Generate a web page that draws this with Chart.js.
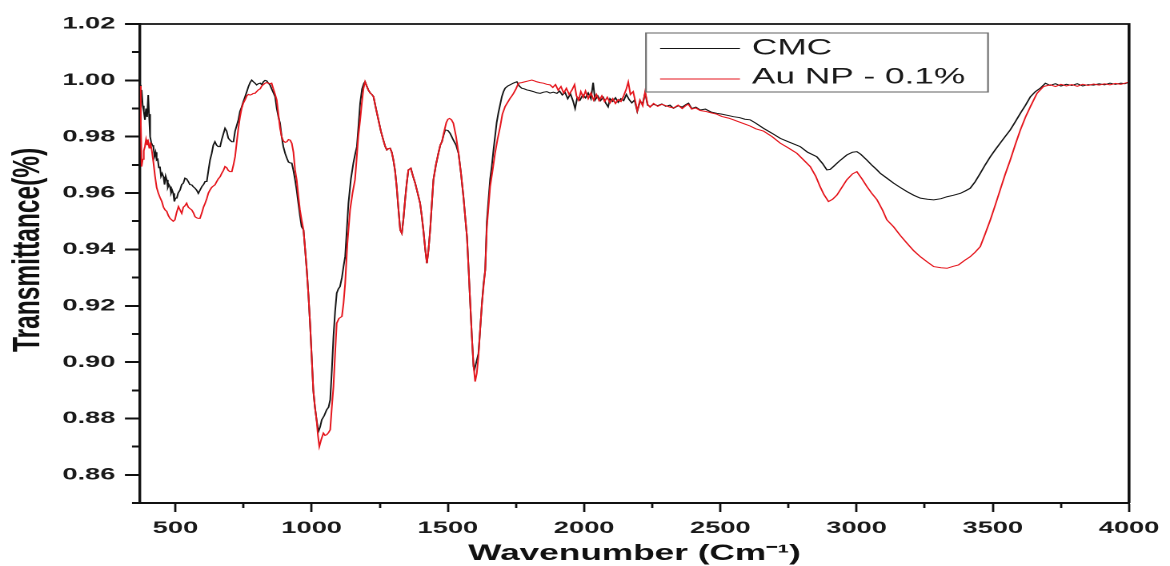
<!DOCTYPE html>
<html><head><meta charset="utf-8">
<script src="https://cdn.jsdelivr.net/npm/chart.js@4.4.1/dist/chart.umd.min.js"></script>
<style>
html,body{margin:0;padding:0;background:#fff;overflow:hidden;}
#wrap{width:1170px;height:566px;position:relative;overflow:hidden;background:#fff;}
#c{position:absolute;left:0;top:0;transform-origin:0 0;transform:scaleX(1.60055);}
</style></head><body><div id="wrap"><canvas id="c" width="731" height="566"></canvas></div>
<script>
const seriesLabels = ['CMC', 'Au NP - 0.1%'];

const cmcWavenumber = [370,373,376,380,384,388,392,396,400,403,407,411,415,419,423,427,431,435,439,443,447,451,456,460,464,468,472,476,480,484,488,492,496,500,505,510,517,523,529,535,541,547,553,560,566,572,578,584,590,597,603,609,615,621,627,633,639,645,651,657,664,670,676,682,688,694,700,707,713,719,725,731,737,743,749,755,762,768,774,780,786,792,798,804,811,817,823,829,835,841,847,853,860,866,872,878,884,890,896,903,909,915,921,927,933,939,945,951,957,963,970,976,982,988,994,1000,1006,1012,1018,1025,1031,1037,1046,1055,1062,1068,1074,1080,1086,1092,1098,1104,1111,1117,1123,1129,1135,1144,1153,1160,1166,1172,1178,1185,1192,1196,1202,1208,1215,1221,1227,1236,1245,1254,1263,1270,1276,1282,1288,1294,1300,1306,1312,1318,1325,1331,1337,1343,1349,1355,1364,1372,1380,1389,1398,1404,1410,1417,1423,1429,1435,1441,1447,1456,1465,1472,1478,1484,1490,1500,1508,1514,1520,1530,1539,1548,1557,1564,1570,1576,1582,1588,1594,1597,1603,1612,1618,1625,1631,1637,1643,1649,1655,1661,1667,1673,1679,1685,1692,1698,1704,1710,1720,1728,1740,1753,1762,1771,1780,1790,1800,1814,1826,1839,1851,1863,1875,1887,1900,1910,1920,1930,1940,1950,1960,1967,1975,1985,1995,2005,2015,2025,2033,2040,2050,2060,2070,2080,2088,2095,2105,2115,2125,2135,2145,2155,2165,2175,2185,2195,2205,2215,2224,2233,2242,2255,2270,2285,2300,2315,2328,2345,2360,2375,2383,2395,2410,2426,2445,2465,2487,2505,2530,2548,2570,2590,2609,2630,2658,2690,2720,2750,2793,2820,2854,2875,2891,2903,2915,2935,2964,2985,3001,3015,3038,3055,3075,3087,3111,3136,3160,3185,3210,3234,3260,3283,3310,3332,3355,3381,3400,3417,3435,3454,3472,3491,3510,3527,3545,3564,3582,3601,3620,3638,3656,3674,3693,3710,3730,3750,3770,3790,3810,3830,3850,3870,3890,3910,3930,3950,3970,3985,4000];
const cmcTransmittance = [0.9984,0.9940,0.9966,0.9910,0.9890,0.9860,0.9900,0.9870,0.9948,0.9880,0.9800,0.9780,0.9770,0.9765,0.9730,0.9745,0.9717,0.9720,0.9690,0.9694,0.9660,0.9670,0.9658,0.9630,0.9660,0.9647,0.9620,0.9630,0.9623,0.9600,0.9610,0.9599,0.9570,0.9582,0.9582,0.9600,0.9611,0.9630,0.9635,0.9653,0.9650,0.9641,0.9630,0.9629,0.9622,0.9617,0.9610,0.9599,0.9610,0.9623,0.9630,0.9641,0.9641,0.9680,0.9717,0.9740,0.9770,0.9782,0.9770,0.9765,0.9765,0.9790,0.9810,0.9830,0.9820,0.9795,0.9788,0.9782,0.9782,0.9820,0.9840,0.9860,0.9890,0.9905,0.9924,0.9940,0.9960,0.9978,0.9992,1.0001,0.9995,0.9990,0.9984,0.9988,0.9990,0.9985,0.9995,1.0000,0.9998,0.9990,0.9984,0.9970,0.9955,0.9942,0.9900,0.9870,0.9848,0.9800,0.9765,0.9740,0.9724,0.9710,0.9707,0.9706,0.9680,0.9647,0.9610,0.9564,0.9520,0.9481,0.9469,0.9400,0.9327,0.9240,0.9140,0.9020,0.8900,0.8840,0.8795,0.8754,0.8770,0.8795,0.8810,0.8831,0.8840,0.8866,0.8970,0.9090,0.9180,0.9245,0.9260,0.9268,0.9300,0.9340,0.9375,0.9470,0.9564,0.9650,0.9706,0.9740,0.9765,0.9840,0.9919,0.9970,0.9990,0.9995,0.9980,0.9966,0.9955,0.9950,0.9942,0.9900,0.9860,0.9820,0.9788,0.9765,0.9753,0.9758,0.9759,0.9745,0.9717,0.9680,0.9623,0.9550,0.9469,0.9457,0.9510,0.9576,0.9635,0.9682,0.9688,0.9660,0.9635,0.9600,0.9564,0.9520,0.9469,0.9400,0.9351,0.9400,0.9469,0.9560,0.9647,0.9700,0.9741,0.9770,0.9782,0.9805,0.9824,0.9822,0.9812,0.9800,0.9788,0.9770,0.9741,0.9670,0.9587,0.9510,0.9445,0.9330,0.9209,0.9090,0.8984,0.8972,0.8995,0.9030,0.9110,0.9209,0.9280,0.9327,0.9500,0.9576,0.9650,0.9694,0.9750,0.9800,0.9850,0.9883,0.9915,0.9942,0.9960,0.9972,0.9980,0.9984,0.9990,0.9995,0.9980,0.9972,0.9970,0.9966,0.9964,0.9960,0.9956,0.9954,0.9958,0.9960,0.9955,0.9958,0.9954,0.9962,0.9948,0.9957,0.9935,0.9952,0.9925,0.9900,0.9940,0.9930,0.9948,0.9938,0.9955,0.9935,0.9992,0.9930,0.9945,0.9928,0.9940,0.9918,0.9906,0.9935,0.9925,0.9938,0.9922,0.9935,0.9928,0.9950,0.9932,0.9920,0.9930,0.9890,0.9925,0.9918,0.9955,0.9912,0.9907,0.9915,0.9910,0.9916,0.9908,0.9912,0.9901,0.9910,0.9905,0.9915,0.9919,0.9900,0.9905,0.9895,0.9898,0.9888,0.9883,0.9880,0.9875,0.9871,0.9868,0.9862,0.9860,0.9848,0.9830,0.9812,0.9794,0.9782,0.9765,0.9745,0.9729,0.9705,0.9682,0.9684,0.9694,0.9712,0.9735,0.9745,0.9747,0.9738,0.9717,0.9700,0.9682,0.9670,0.9653,0.9635,0.9620,0.9605,0.9592,0.9582,0.9578,0.9576,0.9580,0.9587,0.9592,0.9599,0.9608,0.9617,0.9640,0.9670,0.9700,0.9729,0.9755,0.9777,0.9800,0.9824,0.9852,0.9883,0.9912,0.9942,0.9960,0.9972,0.9990,0.9982,0.9988,0.9980,0.9986,0.9982,0.9988,0.9980,0.9985,0.9983,0.9988,0.9984,0.9990,0.9986,0.9990,0.9988,0.9994];

const auWavenumber = [370,373,376,380,384,388,392,396,400,404,408,413,419,425,431,437,443,450,456,462,468,474,480,486,492,498,504,511,517,523,529,535,541,547,553,560,566,572,578,584,590,597,603,609,615,621,627,633,639,645,651,657,664,670,676,682,688,694,700,707,713,719,725,731,737,743,749,755,762,768,774,780,786,792,798,804,811,817,823,829,835,841,847,853,860,866,872,878,884,890,896,903,909,915,921,927,933,939,945,951,957,963,970,976,982,988,994,1000,1006,1012,1018,1023,1028,1035,1043,1049,1055,1062,1068,1074,1080,1086,1092,1100,1111,1117,1123,1131,1141,1150,1159,1165,1171,1178,1184,1190,1196,1202,1208,1215,1221,1227,1236,1245,1254,1263,1270,1276,1282,1288,1294,1300,1306,1312,1318,1325,1331,1337,1343,1349,1355,1364,1372,1380,1389,1398,1404,1410,1417,1423,1429,1435,1441,1447,1456,1465,1472,1478,1484,1494,1500,1506,1513,1520,1530,1539,1548,1557,1564,1570,1576,1582,1588,1594,1600,1606,1612,1618,1625,1631,1637,1643,1649,1655,1664,1673,1682,1692,1700,1710,1718,1728,1735,1741,1750,1759,1771,1783,1795,1808,1818,1826,1838,1851,1863,1875,1885,1895,1905,1915,1925,1935,1945,1955,1965,1972,1980,1988,1997,2005,2015,2025,2035,2045,2055,2065,2075,2085,2095,2105,2115,2125,2135,2145,2155,2162,2170,2180,2188,2195,2205,2215,2224,2233,2242,2255,2270,2285,2300,2315,2328,2345,2360,2375,2383,2395,2410,2426,2445,2465,2487,2505,2530,2548,2570,2590,2609,2630,2658,2690,2720,2750,2781,2805,2830,2850,2866,2880,2897,2912,2928,2946,2964,2985,3001,3020,3038,3055,3075,3095,3111,3136,3160,3185,3210,3234,3260,3283,3310,3332,3355,3374,3395,3417,3435,3454,3472,3491,3510,3527,3545,3564,3582,3601,3620,3638,3662,3686,3711,3730,3750,3770,3790,3810,3830,3850,3870,3890,3910,3930,3950,3970,3985,4000];
const auTransmittance = [0.9980,0.9850,0.9694,0.9720,0.9750,0.9765,0.9790,0.9770,0.9782,0.9760,0.9780,0.9753,0.9710,0.9660,0.9620,0.9600,0.9585,0.9570,0.9550,0.9540,0.9535,0.9520,0.9510,0.9505,0.9500,0.9505,0.9530,0.9552,0.9540,0.9528,0.9550,0.9555,0.9564,0.9550,0.9545,0.9540,0.9530,0.9516,0.9512,0.9510,0.9510,0.9530,0.9550,0.9564,0.9580,0.9600,0.9611,0.9620,0.9625,0.9629,0.9640,0.9650,0.9658,0.9670,0.9680,0.9694,0.9690,0.9680,0.9676,0.9676,0.9700,0.9729,0.9780,0.9830,0.9870,0.9900,0.9919,0.9930,0.9945,0.9950,0.9948,0.9950,0.9954,0.9954,0.9960,0.9966,0.9970,0.9980,0.9985,0.9990,0.9992,0.9990,0.9988,0.9990,0.9968,0.9950,0.9930,0.9880,0.9830,0.9800,0.9785,0.9780,0.9782,0.9790,0.9788,0.9777,0.9745,0.9682,0.9647,0.9590,0.9540,0.9505,0.9469,0.9400,0.9327,0.9240,0.9140,0.9020,0.8900,0.8840,0.8795,0.8740,0.8700,0.8725,0.8748,0.8740,0.8742,0.8750,0.8760,0.8840,0.8913,0.9030,0.9138,0.9155,0.9162,0.9210,0.9280,0.9420,0.9540,0.9600,0.9647,0.9720,0.9800,0.9860,0.9919,0.9970,0.9995,0.9980,0.9966,0.9955,0.9950,0.9942,0.9900,0.9860,0.9820,0.9788,0.9765,0.9753,0.9758,0.9759,0.9745,0.9717,0.9680,0.9623,0.9550,0.9469,0.9457,0.9510,0.9576,0.9635,0.9682,0.9688,0.9660,0.9635,0.9600,0.9564,0.9520,0.9469,0.9400,0.9351,0.9400,0.9469,0.9560,0.9647,0.9700,0.9741,0.9770,0.9782,0.9810,0.9850,0.9862,0.9865,0.9860,0.9848,0.9800,0.9741,0.9670,0.9587,0.9510,0.9445,0.9330,0.9209,0.9090,0.8990,0.8931,0.8960,0.9020,0.9110,0.9209,0.9270,0.9327,0.9480,0.9550,0.9623,0.9680,0.9741,0.9790,0.9836,0.9880,0.9907,0.9920,0.9936,0.9945,0.9954,0.9970,0.9990,0.9992,0.9995,0.9998,1.0001,0.9998,0.9995,0.9992,0.9990,0.9986,0.9984,0.9975,0.9985,0.9965,0.9978,0.9955,0.9972,0.9950,0.9965,0.9985,0.9945,0.9930,0.9960,0.9940,0.9962,0.9935,0.9955,0.9930,0.9950,0.9928,0.9945,0.9925,0.9940,0.9920,0.9935,0.9918,0.9932,0.9925,0.9945,0.9970,0.9994,0.9950,0.9960,0.9925,0.9892,0.9930,0.9910,0.9960,0.9915,0.9905,0.9918,0.9908,0.9915,0.9910,0.9905,0.9902,0.9912,0.9900,0.9912,0.9915,0.9898,0.9902,0.9893,0.9890,0.9885,0.9880,0.9872,0.9866,0.9860,0.9852,0.9845,0.9838,0.9828,0.9820,0.9800,0.9777,0.9760,0.9741,0.9718,0.9694,0.9660,0.9623,0.9595,0.9570,0.9578,0.9593,0.9620,0.9647,0.9668,0.9676,0.9650,0.9623,0.9600,0.9576,0.9540,0.9505,0.9480,0.9450,0.9422,0.9395,0.9374,0.9355,0.9339,0.9335,0.9333,0.9340,0.9345,0.9360,0.9374,0.9390,0.9410,0.9455,0.9505,0.9560,0.9611,0.9665,0.9717,0.9770,0.9824,0.9870,0.9907,0.9954,0.9978,0.9984,0.9978,0.9986,0.9980,0.9985,0.9979,0.9986,0.9982,0.9987,0.9983,0.9988,0.9984,0.9989,0.9986,0.9990,0.9994];

const xMajorTicks = [500, 1000, 1500, 2000, 2500, 3000, 3500, 4000];
const xMinorTicks = [750, 1250, 1750, 2250, 2750, 3250, 3750];
const yMajorTicks = [0.86, 0.88, 0.90, 0.92, 0.94, 0.96, 0.98, 1.00, 1.02];
const yMinorTicks = [0.85, 0.87, 0.89, 0.91, 0.93, 0.95, 0.97, 0.99, 1.01];
const xRange = [370, 4000];
const yRange = [0.85, 1.02];
const xTitle = 'Wavenumber (Cm\u207B\u00B9)';
const yTitle = '    Transmittance(%)';

function pairs(xs, ys) { return xs.map((x, i) => ({ x: x, y: ys[i] })); }

const FONT = "'Liberation Sans', Arial, Helvetica, sans-serif";
const lineColors = ['#151515', '#e5161d'];

const framePlugin = {
  id: 'frame',
  afterDatasetsDraw(chart) {
    const a = chart.chartArea, ctx = chart.ctx;
    ctx.save();
    ctx.strokeStyle = '#111';
    ctx.lineWidth = 1.8;
    ctx.beginPath();
    ctx.moveTo(a.left, a.top);
    ctx.lineTo(a.right, a.top);
    ctx.lineTo(a.right, a.bottom);
    ctx.stroke();
    ctx.restore();
  }
};

const legendPlugin = {
  id: 'legendBox',
  afterDraw(chart) {
    const ctx = chart.ctx;
    const x0 = 403.6, y0 = 33, w = 213.7, h = 59;
    ctx.save();
    ctx.fillStyle = '#fff';
    ctx.fillRect(x0, y0, w, h);
    ctx.strokeStyle = '#707070';
    ctx.lineWidth = 1.1;
    ctx.strokeRect(x0, y0, w, h);
    const rows = [48.5, 79];
    chart.data.datasets.forEach((ds, i) => {
      const y = rows[i];
      ctx.strokeStyle = ds.borderColor;
      ctx.lineWidth = 0.9;
      ctx.beginPath();
      ctx.moveTo(412.4, y);
      ctx.lineTo(462.3, y);
      ctx.stroke();
      ctx.fillStyle = '#1a1a1a';
      ctx.font = '22px ' + FONT;
      ctx.textBaseline = 'middle';
      ctx.textAlign = 'left';
      ctx.fillText(ds.label, 469.8, i === 0 ? 48.5 : 77.5);
    });
    ctx.restore();
  }
};

new Chart(document.getElementById('c'), {
  type: 'line',
  data: {
    datasets: [
      { label: seriesLabels[0], data: pairs(cmcWavenumber, cmcTransmittance), borderColor: lineColors[0], borderWidth: 1, pointRadius: 0, tension: 0, fill: false, order: 2 },
      { label: seriesLabels[1], data: pairs(auWavenumber, auTransmittance), borderColor: lineColors[1], borderWidth: 1, pointRadius: 0, tension: 0, fill: false, order: 1 }
    ]
  },
  options: {
    responsive: false,
    animation: false,
    devicePixelRatio: 2,
    layout: { padding: { left: 0, right: 25.6, top: 24, bottom: 0 } },
    plugins: { legend: { display: false }, tooltip: { enabled: false } },
    scales: {
      x: {
        type: 'linear', position: 'bottom', weight: 1,
        min: xRange[0], max: xRange[1],
        afterBuildTicks: (s) => { s.ticks = xMajorTicks.map(v => ({ value: v })); },
        afterFit: (s) => { s.height = 63; },
        ticks: { color: '#1a1a1a', font: { family: FONT, size: 17, weight: 'bold' }, padding: 6, maxRotation: 0, callback: (v) => String(v) },
        grid: { drawOnChartArea: false, drawTicks: true, tickLength: 9, tickWidth: 1.4, tickColor: '#111' },
        border: { display: true, color: '#111', width: 2 },
        title: { display: true, text: xTitle, color: '#111', font: { family: FONT, size: 22, weight: 'bold', lineHeight: 1 }, padding: { top: 0, bottom: 1 } }
      },
      xMinor: {
        type: 'linear', position: 'bottom', weight: 0,
        min: xRange[0], max: xRange[1],
        afterBuildTicks: (s) => { s.ticks = xMinorTicks.map(v => ({ value: v })); },
        afterFit: (s) => { s.height = 0; },
        ticks: { display: false },
        grid: { drawOnChartArea: false, drawTicks: true, tickLength: 5, tickWidth: 1.4, tickColor: '#111' },
        border: { display: false }
      },
      y: {
        type: 'linear', position: 'left', weight: 1,
        min: yRange[0], max: yRange[1],
        afterBuildTicks: (s) => { s.ticks = yMajorTicks.map(v => ({ value: v })); },
        afterFit: (s) => { s.width = 87.47; },
        ticks: { color: '#1a1a1a', font: { family: FONT, size: 17, weight: 'bold' }, padding: 6, callback: (v) => Number(v).toFixed(2) },
        grid: { drawOnChartArea: false, drawTicks: true, tickLength: 9.4, tickWidth: 2, tickColor: '#111' },
        border: { display: true, color: '#111', width: 1.7 },
        title: { display: true, text: yTitle, color: '#111', font: { family: FONT, size: 24.5, weight: 'bold', lineHeight: 1 }, padding: { top: 5.5, bottom: 0 } }
      },
      yMinor: {
        type: 'linear', position: 'left', weight: 0,
        min: yRange[0], max: yRange[1],
        afterBuildTicks: (s) => { s.ticks = yMinorTicks.map(v => ({ value: v })); },
        afterFit: (s) => { s.width = 0; },
        ticks: { display: false },
        grid: { drawOnChartArea: false, drawTicks: true, tickLength: 5, tickWidth: 2, tickColor: '#111' },
        border: { display: false }
      }
    }
  },
  plugins: [framePlugin, legendPlugin]
});
</script></body></html>
